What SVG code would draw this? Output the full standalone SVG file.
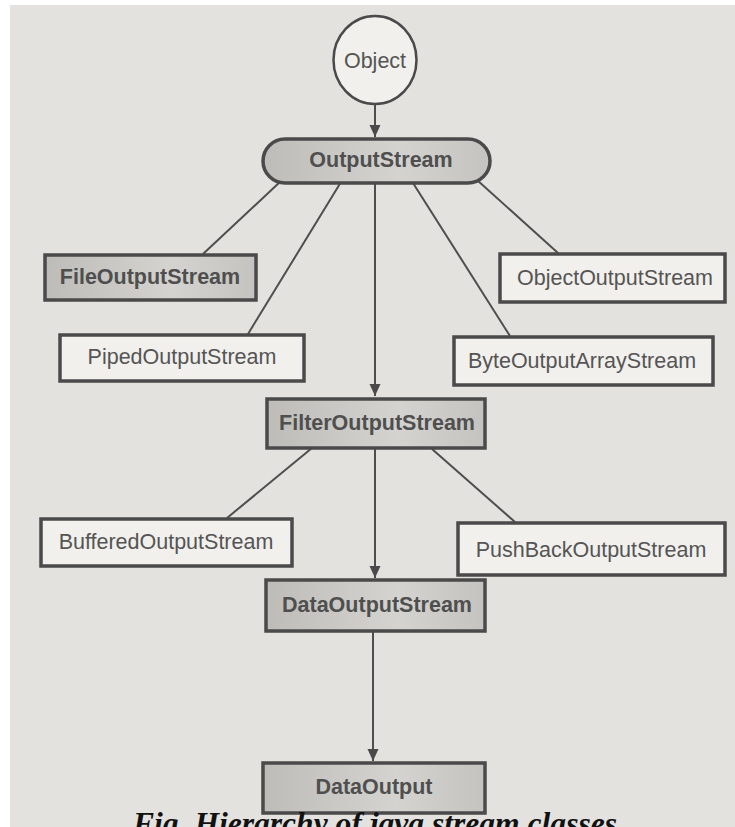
<svg xmlns="http://www.w3.org/2000/svg" width="735" height="827" viewBox="0 0 735 827">
<defs>
<style>
.edge{stroke:#4e4e4e;stroke-width:2;fill:none}
.box{stroke:#4a4a4a;stroke-width:3.5}
.plain{fill:#f1f0ec}
.shade{fill:url(#g)}
.t{font-family:"Liberation Sans",Arial,sans-serif;font-size:21.5px;fill:#555;text-anchor:middle}
.b{font-weight:bold;fill:#4f4f4f}
.cap{font-family:"Liberation Serif","Times New Roman",serif;font-weight:bold;font-style:italic;font-size:31px;fill:#111;text-anchor:middle}
</style>
<linearGradient id="g" x1="0" y1="0" x2="1" y2="0">
<stop offset="0" stop-color="#bdbcb8"/>
<stop offset="0.6" stop-color="#d4d3cf"/>
<stop offset="1" stop-color="#c4c3bf"/>
</linearGradient>
<marker id="arr" markerWidth="12" markerHeight="14" refX="12" refY="5.5" orient="auto" markerUnits="userSpaceOnUse">
<path d="M0,0 L12,5.5 L0,11 Z" fill="#4a4a4a"/>
</marker>
</defs>
<rect x="0" y="0" width="735" height="827" fill="#ffffff"/>
<rect x="10" y="5" width="725" height="822" fill="#e3e2de"/>
<g id="connectors">
<line class="edge" x1="375" y1="104" x2="375" y2="137" marker-end="url(#arr)"/>
<line class="edge" x1="281" y1="181" x2="203" y2="254"/>
<line class="edge" x1="341" y1="182" x2="248" y2="334"/>
<line class="edge" x1="375" y1="183" x2="375" y2="396" marker-end="url(#arr)"/>
<line class="edge" x1="413" y1="183" x2="510" y2="336"/>
<line class="edge" x1="477" y1="180" x2="558" y2="253"/>
<line class="edge" x1="312" y1="448" x2="227" y2="518"/>
<line class="edge" x1="432" y1="449" x2="515" y2="522"/>
<line class="edge" x1="375" y1="448" x2="375" y2="578" marker-end="url(#arr)"/>
<line class="edge" x1="373" y1="632" x2="373" y2="761" marker-end="url(#arr)"/>
</g>
<g id="object">
<ellipse cx="375" cy="60" rx="41.5" ry="44" fill="#f1f0ec" stroke="#4a4a4a" stroke-width="2.5"/>
<text class="t" x="375" y="68">Object</text>
</g>
<g id="outputstream">
<rect class="box shade" x="263" y="139" width="227" height="44" rx="22" ry="22" stroke-width="3"/>
<text class="t b" x="381" y="167">OutputStream</text>
</g>
<g id="fileoutputstream">
<rect class="box shade" x="45" y="255" width="211" height="45"/>
<text class="t b" x="150" y="284">FileOutputStream</text>
</g>
<g id="pipedoutputstream">
<rect class="box plain" x="60" y="335" width="244" height="46"/>
<text class="t" x="182" y="364">PipedOutputStream</text>
</g>
<g id="objectoutputstream">
<rect class="box plain" x="500" y="254" width="225" height="48"/>
<text class="t" x="615" y="285">ObjectOutputStream</text>
</g>
<g id="byteoutputarraystream">
<rect class="box plain" x="454" y="337" width="259" height="48"/>
<text class="t" x="582" y="368">ByteOutputArrayStream</text>
</g>
<g id="filteroutputstream">
<rect class="box shade" x="267" y="399" width="218" height="49"/>
<text class="t b" x="377" y="430">FilterOutputStream</text>
</g>
<g id="bufferedoutputstream">
<rect class="box plain" x="41" y="519" width="251" height="47"/>
<text class="t" x="166" y="549">BufferedOutputStream</text>
</g>
<g id="pushbackoutputstream">
<rect class="box plain" x="458" y="523" width="267" height="52"/>
<text class="t" x="591" y="557">PushBackOutputStream</text>
</g>
<g id="dataoutputstream">
<rect class="box shade" x="266" y="580" width="219" height="51"/>
<text class="t b" x="377" y="612">DataOutputStream</text>
</g>
<g id="dataoutput">
<rect class="box shade" x="263" y="763" width="222" height="50"/>
<text class="t b" x="374" y="794">DataOutput</text>
</g>
<text class="cap" x="375" y="834" textLength="484" lengthAdjust="spacingAndGlyphs">Fig. Hierarchy of java stream classes</text>
</svg>
